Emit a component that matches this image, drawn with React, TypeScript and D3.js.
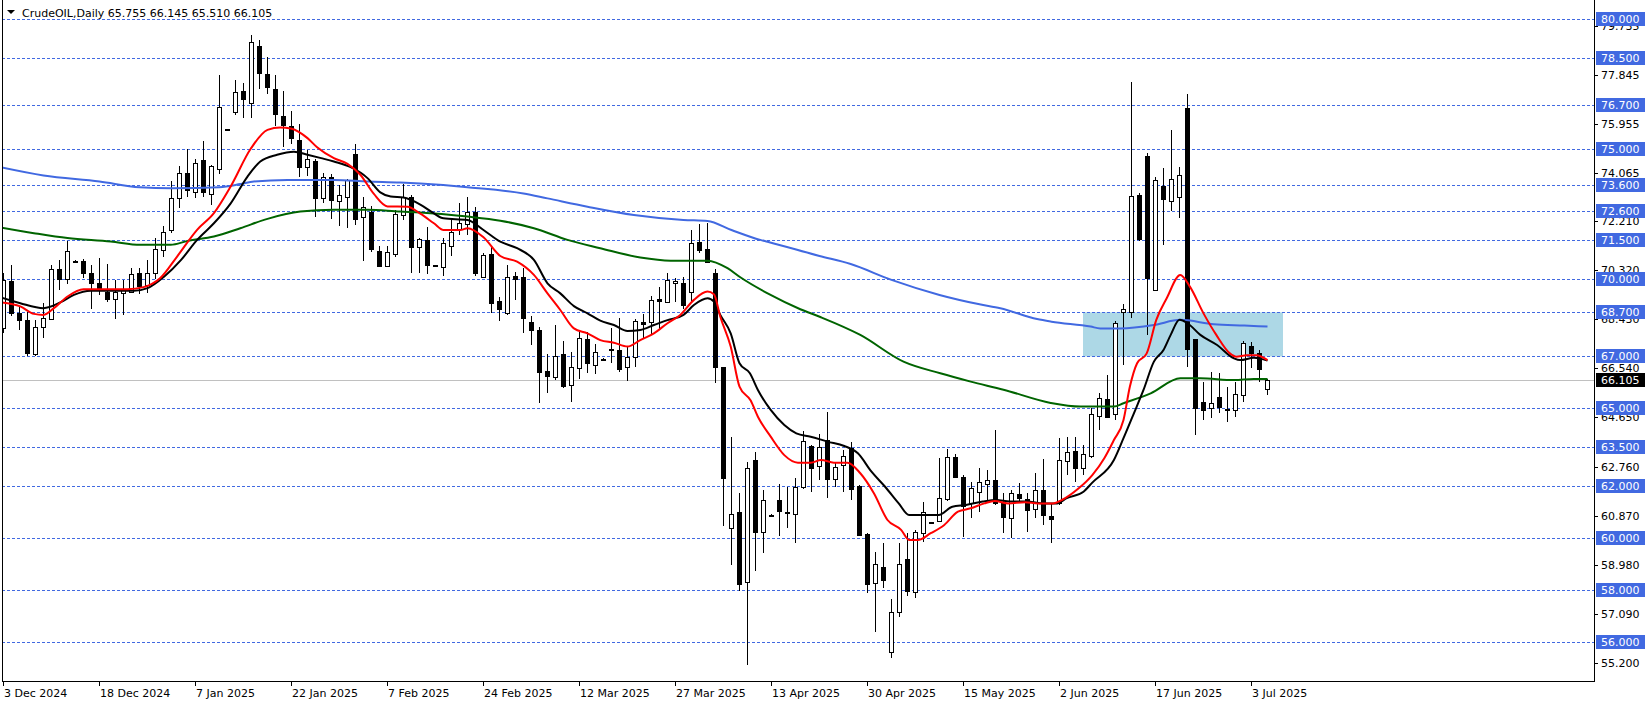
import React from 'react';
import * as d3 from 'd3';

// Daily candles: [open, high, low, close], bar 0 = 3 Dec 2024
const ohlc: number[][] = [
  [68.09, 70.2, 67.9, 69.95], [69.91, 70.53, 68.54, 68.69], [68.69, 68.9, 68.03, 68.39], [68.41, 68.73, 67.0, 67.15],
  [67.1, 68.4, 67.0, 68.15], [68.13, 69.05, 67.7, 68.48], [68.44, 70.53, 68.41, 70.36], [70.36, 70.72, 69.57, 69.98],
  [70.0, 71.43, 69.8, 71.07], [70.66, 70.7, 70.6, 70.67], [70.69, 70.75, 70.02, 70.23], [70.23, 70.53, 68.82, 69.82],
  [69.82, 70.79, 69.37, 69.57], [69.5, 70.56, 69.08, 69.21], [69.21, 69.95, 68.44, 69.5], [69.45, 69.95, 68.6, 69.55],
  [69.48, 70.4, 69.48, 70.17], [70.21, 70.4, 69.4, 69.7], [69.76, 70.72, 69.44, 70.23], [70.21, 71.56, 70.0, 71.13],
  [71.11, 72.03, 70.85, 71.79], [71.88, 73.74, 71.75, 73.1], [73.1, 74.34, 72.71, 74.06], [74.06, 75.0, 73.16, 73.42],
  [73.35, 74.6, 73.1, 74.45], [74.57, 75.3, 73.16, 73.32], [73.26, 74.38, 72.84, 74.32], [74.21, 77.85, 74.02, 76.6],
  [75.73, 75.78, 75.7, 75.75], [76.41, 77.65, 76.31, 77.18], [77.23, 77.53, 76.18, 76.91], [76.76, 79.39, 76.18, 79.13],
  [78.96, 79.2, 77.3, 77.91], [77.89, 78.53, 77.12, 77.37], [77.3, 77.85, 75.86, 76.33], [76.27, 77.21, 75.06, 75.9],
  [75.86, 76.46, 75.19, 75.41], [75.34, 75.96, 73.93, 74.29], [74.29, 74.96, 73.96, 74.6], [74.54, 74.6, 72.39, 73.1],
  [73.12, 74.06, 72.93, 73.93], [73.93, 74.03, 72.3, 73.01], [72.99, 73.61, 72.03, 73.21], [73.14, 73.83, 71.94, 73.78],
  [74.79, 75.18, 72.07, 72.29], [72.37, 73.16, 70.68, 72.74], [72.58, 72.78, 71.04, 71.15], [71.07, 71.24, 70.44, 70.5],
  [70.5, 71.24, 70.47, 71.02], [70.94, 72.65, 70.83, 72.48], [72.45, 73.65, 72.26, 73.16], [73.16, 73.23, 70.23, 71.2],
  [71.2, 71.55, 70.2, 71.51], [71.49, 72.0, 70.18, 70.52], [70.52, 70.54, 70.48, 70.5], [70.44, 71.55, 70.1, 71.36],
  [71.27, 72.26, 70.87, 71.78], [71.91, 72.93, 71.68, 72.13], [72.1, 73.16, 71.68, 72.58], [72.55, 72.75, 70.1, 70.2],
  [70.07, 70.97, 70.01, 70.91], [70.95, 71.23, 68.66, 69.05], [69.14, 69.3, 68.38, 68.82], [68.69, 70.52, 68.6, 70.08],
  [70.1, 70.27, 69.18, 69.97], [70.07, 70.4, 67.89, 68.47], [68.34, 68.56, 67.44, 68.02], [68.02, 68.15, 65.2, 66.39],
  [66.45, 67.1, 65.58, 66.26], [66.22, 68.21, 66.1, 67.03], [67.1, 67.6, 65.77, 65.86], [65.9, 67.18, 65.26, 66.58],
  [66.54, 67.96, 66.12, 67.7], [67.66, 67.96, 66.35, 66.76], [66.68, 67.48, 66.32, 67.16], [66.9, 66.93, 66.87, 66.91],
  [67.25, 68.08, 66.74, 67.3], [67.25, 68.47, 66.42, 66.5], [66.6, 67.38, 66.07, 66.99], [66.99, 68.43, 66.6, 68.37],
  [68.34, 68.64, 67.7, 68.25], [68.34, 69.34, 67.87, 69.18], [69.2, 69.69, 68.06, 69.15], [69.11, 70.2, 69.07, 69.95],
  [69.82, 70.04, 69.11, 69.9], [69.84, 70.08, 68.82, 68.98], [69.5, 71.87, 69.11, 71.36], [71.42, 72.1, 70.97, 71.1],
  [71.14, 72.16, 70.59, 70.65], [70.2, 70.36, 65.97, 66.61], [66.58, 66.61, 60.47, 62.3], [60.38, 63.9, 58.97, 60.92],
  [61.0, 61.73, 57.97, 58.22], [58.3, 62.95, 55.1, 62.69], [63.01, 63.32, 58.75, 60.25], [60.23, 61.86, 59.42, 61.47],
  [60.9, 60.93, 60.87, 60.91], [61.47, 62.08, 60.1, 61.06], [61.02, 61.96, 60.38, 60.96], [60.92, 62.31, 59.83, 61.96],
  [61.96, 64.14, 61.9, 63.73], [63.56, 63.59, 61.77, 62.69], [62.79, 64.0, 62.24, 63.53], [63.78, 64.85, 61.54, 62.27],
  [62.28, 62.9, 61.99, 62.76], [62.82, 63.4, 61.79, 63.18], [63.49, 63.69, 61.47, 61.9], [62.01, 62.05, 60.1, 60.12],
  [60.15, 60.2, 57.9, 58.22], [58.29, 59.46, 56.4, 58.99], [58.9, 59.83, 58.07, 58.39], [55.6, 57.66, 55.37, 57.17],
  [57.14, 59.8, 56.98, 58.99], [59.19, 60.19, 57.79, 57.97], [57.92, 60.32, 57.71, 60.25], [60.19, 61.41, 59.87, 61.02],
  [60.6, 60.63, 60.57, 60.61], [60.68, 63.1, 60.64, 61.54], [61.5, 63.42, 61.45, 63.14], [63.14, 63.23, 62.35, 62.37],
  [62.34, 62.43, 60.06, 61.25], [61.34, 62.18, 60.77, 61.92], [61.79, 62.69, 61.02, 62.15], [62.08, 62.63, 61.47, 62.24],
  [62.24, 64.17, 61.28, 61.34], [61.41, 61.73, 60.21, 60.81], [60.76, 61.86, 59.99, 61.73], [61.69, 62.11, 61.34, 61.54],
  [61.5, 61.75, 60.25, 61.09], [61.11, 62.5, 60.77, 61.86], [61.86, 63.04, 60.51, 60.89], [60.86, 61.34, 59.8, 60.73],
  [61.34, 63.85, 61.28, 63.0], [62.98, 63.91, 62.44, 63.31], [63.36, 63.91, 62.18, 62.72], [62.69, 63.59, 62.44, 63.23],
  [63.18, 65.0, 63.1, 64.77], [64.71, 65.58, 64.17, 65.39], [65.35, 66.29, 64.62, 64.68], [64.77, 68.38, 64.55, 68.28],
  [68.7, 69.02, 66.67, 68.82], [68.7, 77.59, 68.47, 73.18], [73.22, 73.3, 71.45, 71.51], [74.72, 74.82, 67.83, 70.01],
  [69.56, 73.93, 69.52, 73.8], [73.57, 74.27, 71.3, 73.07], [73.0, 75.72, 72.62, 73.82], [73.16, 74.31, 72.32, 73.99],
  [76.56, 77.11, 66.61, 67.27], [67.67, 67.67, 63.97, 65.0], [65.26, 66.03, 64.55, 64.94], [65.0, 66.39, 64.64, 65.19],
  [65.42, 66.35, 64.81, 65.07], [64.98, 65.84, 64.49, 64.96], [64.94, 66.03, 64.68, 65.54], [65.52, 67.6, 65.26, 67.51],
  [67.4, 67.57, 66.54, 67.15], [67.12, 67.25, 66.03, 66.5], [65.755, 66.145, 65.51, 66.105],
];

const dateLabels = ['3 Dec 2024', '18 Dec 2024', '7 Jan 2025', '22 Jan 2025', '7 Feb 2025', '24 Feb 2025',
  '12 Mar 2025', '27 Mar 2025', '13 Apr 2025', '30 Apr 2025', '15 May 2025', '2 Jun 2025', '17 Jun 2025', '3 Jul 2025'];
const dateLabelBars = [0, 12, 24, 36, 48, 60, 72, 84, 96, 108, 120, 132, 144, 156];

const levelLines = [80, 78.5, 76.7, 75, 73.6, 72.6, 71.5, 70, 68.7, 67, 65, 63.5, 62, 60, 58, 56];
const axisTicks = [79.735, 77.845, 75.955, 74.065, 72.21, 70.32, 68.43, 66.54, 64.65, 62.76, 60.87, 58.98, 57.09, 55.2];

const lastPrice = 66.105;
const titleText = 'CrudeOIL,Daily  65.755 66.145 65.510 66.105';

const zoneTop = 68.7;
const zoneBottom = 67.0;
const zoneFromBar = 135;
const zoneToBar = 160;

// moving averages: [bar, value]
const maBlue: number[][] = [[-0.4, 74.29], [5, 73.97], [12, 73.74], [17, 73.52], [21, 73.48], [27, 73.52], [29.6, 73.64],
  [31.3, 73.74], [35.5, 73.8], [41.3, 73.8], [45.5, 73.74], [49.6, 73.7], [52.1, 73.66], [58, 73.52], [65, 73.28],
  [68, 73.09], [73, 72.77], [78.8, 72.45], [85, 72.26], [88, 72.22], [91, 71.87], [94.6, 71.49], [95.5, 71.42],
  [102, 70.87], [105.9, 70.56], [111, 69.95], [117, 69.37], [122, 69.01], [124.6, 68.86], [129.2, 68.44], [131, 68.34],
  [135.9, 68.15], [137.1, 68.08], [139.6, 68.08], [143.8, 68.21], [147.1, 68.41], [151.3, 68.24], [155.1, 68.19], [158, 68.15]];

const maGreen: number[][] = [[-0.4, 71.97], [3.8, 71.75], [8, 71.56], [13.4, 71.43], [17.1, 71.3], [20.9, 71.3], [23, 71.45],
  [26.3, 71.62], [29.6, 71.94], [33, 72.3], [37.1, 72.58], [41.3, 72.65], [45.5, 72.65], [49.6, 72.58], [52.1, 72.55],
  [58, 72.39], [62.1, 72.23], [66.3, 71.94], [70.5, 71.49], [74.6, 71.17], [79.6, 70.81], [83.4, 70.69], [88, 70.69],
  [90.5, 70.4], [92.1, 70.05], [95.7, 69.4], [99.6, 68.82], [102.1, 68.52], [107.1, 67.83], [112.5, 66.8], [117.1, 66.35],
  [120.9, 66.03], [125, 65.72], [130.9, 65.21], [134.6, 65.07], [138.8, 65.07], [140, 65.2], [143.4, 65.58], [147.1, 66.16],
  [149.6, 66.16], [153.8, 66.09], [156.3, 66.13], [158, 66.13]];

const maRed: number[][] = [[-0.4, 69.09], [2.1, 68.93], [3.8, 68.64], [5, 68.6], [6.3, 68.86], [8, 69.31], [10, 69.59],
  [12.1, 69.59], [15.5, 69.59], [17.5, 69.67], [19.6, 70.02], [21.7, 70.85], [24.2, 71.88], [26.3, 72.52], [28.4, 73.55],
  [30.9, 75.0], [33, 75.73], [34.6, 75.82], [35.9, 75.78], [38, 75.41], [39.2, 75.06], [41.3, 74.64], [43, 74.42],
  [44.6, 74.0], [46.3, 73.26], [48, 72.78], [50.5, 72.77], [52.1, 72.5], [53.8, 72.13], [55, 71.87], [57.1, 71.87],
  [58, 71.94], [60, 71.59], [62.1, 70.87], [64.2, 70.65], [66.3, 70.14], [68, 69.43], [69.6, 68.79], [71.3, 68.08],
  [73, 67.89], [74.6, 67.63], [76.3, 67.53], [78, 67.38], [79.6, 67.63], [81.3, 67.89], [83, 68.28], [84.6, 68.6],
  [86.3, 69.18], [88, 69.5], [88.8, 69.4], [89.6, 68.53], [90.9, 67.38], [92, 65.84], [93.4, 65.3], [94.3, 64.68],
  [95.9, 63.91], [97.6, 63.2], [99.3, 62.91], [100.9, 62.91], [102.2, 63.01], [103.8, 62.91], [105.5, 62.91],
  [107.1, 62.5], [108.8, 61.73], [110.5, 60.7], [112.2, 60.32], [113.2, 59.93], [114.3, 59.93], [115.9, 60.19],
  [117.6, 60.51], [119.3, 61.02], [120.9, 61.15], [122.6, 61.34], [123.9, 61.43], [125.6, 61.34], [127.7, 61.38],
  [129.3, 61.34], [131.2, 61.34], [132.3, 61.47], [134.4, 61.92], [136.1, 62.43], [137.6, 63.08], [138.8, 63.78],
  [140, 64.55], [140.8, 65.84], [141.7, 66.74], [142.9, 67.12], [144.1, 68.41], [145.4, 69.24], [147.1, 70.14],
  [148.3, 69.69], [150, 68.66], [151.6, 67.83], [153.3, 67.12], [154.1, 66.99], [155.4, 67.05], [156.6, 67.05], [158, 66.86]];

const maBlack: number[][] = [[-0.4, 69.28], [2.1, 69.05], [5, 68.86], [7.1, 69.08], [8.8, 69.37], [10.9, 69.53],
  [13.4, 69.53], [16.3, 69.53], [18, 69.63], [20.1, 70.08], [22.2, 70.72], [24.2, 71.49], [26.3, 72.13], [28.4, 72.9],
  [30.5, 73.93], [32.1, 74.51], [34.2, 74.77], [36.3, 74.89], [38, 74.77], [39.7, 74.64], [41.3, 74.51], [43.4, 74.29],
  [45.5, 73.87], [47.1, 73.32], [48.4, 73.16], [50, 73.12], [52.1, 72.85], [53.8, 72.51], [55, 72.32], [58, 72.26],
  [60, 71.87], [62.1, 71.42], [64.2, 71.17], [66.3, 70.72], [68, 69.82], [69.6, 69.43], [71.3, 68.94], [73, 68.66],
  [74.6, 68.38], [76.3, 68.21], [78, 67.98], [79.6, 68.02], [81.3, 68.21], [83, 68.4], [85, 68.6], [86.3, 68.98],
  [88, 69.24], [88.8, 69.11], [89.6, 68.6], [90.9, 67.89], [92, 66.74], [93.3, 66.35], [94.3, 65.71], [95.9, 64.94],
  [97.6, 64.36], [99.1, 64.04], [100.9, 63.91], [103, 63.72], [105.1, 63.55], [106.8, 63.27], [108.5, 62.56],
  [110.2, 61.98], [111.9, 61.34], [113.2, 60.89], [115.3, 60.89], [116.9, 60.89], [118.6, 61.21], [120.3, 61.28],
  [122.4, 61.41], [124.1, 61.47], [125.8, 61.41], [127.9, 61.41], [130, 61.34], [131.7, 61.34], [132.9, 61.54],
  [135, 61.79], [136.1, 62.14], [138.8, 63.01], [140, 63.85], [141.3, 64.81], [142.5, 65.71], [143.8, 66.8],
  [145, 67.25], [145.9, 67.83], [147, 68.41], [148, 68.28], [149.6, 67.83], [151.7, 67.44], [153.8, 66.93],
  [154.6, 66.86], [156.3, 66.95], [158, 66.84]];

const W = 1651;
const H = 705;
const PLOT_L = 2;
const PLOT_R = 1594;
const PLOT_B = 681;
const FONT = '"DejaVu Sans", Tahoma, sans-serif';
const ROYAL = '#4169E1';

export default function App() {
  const x = d3.scaleLinear().domain([0, 1]).range([3, 11]);
  const y = d3.scaleLinear().domain([80, 56]).range([19, 642]);

  const line = d3.line<number[]>()
    .x((d) => x(d[0]) + 0.5)
    .y((d) => y(d[1]))
    .curve(d3.curveMonotoneX);

  const mas: [number[][], string][] = [
    [maBlue, ROYAL],
    [maGreen, '#006400'],
    [maBlack, '#000000'],
    [maRed, '#FF0000'],
  ];

  return (
    <svg width={W} height={H} style={{ position: 'absolute', left: 0, top: 0, display: 'block', background: '#fff' }}
      fontFamily={FONT} fontSize={11}>
      <defs>
        <clipPath id="plot">
          <rect x={PLOT_L + 0.5} y={0} width={PLOT_R - PLOT_L - 0.5} height={PLOT_B} />
        </clipPath>
      </defs>
      <rect x={0} y={0} width={W} height={H} fill="#fff" />
      <g clipPath="url(#plot)">
        {/* zone */}
        <rect x={x(zoneFromBar)} y={y(zoneTop)} width={x(zoneToBar) - x(zoneFromBar)}
          height={y(zoneBottom) - y(zoneTop)} fill="#ADD8E6" />
        {/* level lines */}
        {levelLines.map((lv) => (
          <line key={lv} x1={PLOT_L} x2={PLOT_R} y1={Math.round(y(lv)) + 0.5} y2={Math.round(y(lv)) + 0.5}
            stroke={ROYAL} strokeWidth={1} strokeDasharray="3,2" />
        ))}
        {/* last price line */}
        <line x1={PLOT_L} x2={PLOT_R} y1={Math.round(y(lastPrice)) + 0.5} y2={Math.round(y(lastPrice)) + 0.5}
          stroke="#C0C0C0" strokeWidth={1} />
        {/* candles */}
        <g shapeRendering="crispEdges">
          {ohlc.map((c, i) => {
            const [o, h, l, cl] = c;
            const cx = x(i);
            const top = Math.round(y(Math.max(o, cl)));
            const bot = Math.round(y(Math.min(o, cl)));
            const bull = cl >= o;
            return (
              <g key={i}>
                <line x1={cx + 0.5} x2={cx + 0.5} y1={Math.round(y(h))} y2={Math.round(y(l))} stroke="#000" strokeWidth={1} />
                <rect x={cx - 1.5} y={top + 0.5} width={4} height={Math.max(bot - top, 0.5)}
                  fill={bull ? '#fff' : '#000'} stroke="#000" strokeWidth={1} />
              </g>
            );
          })}
        </g>
        {/* moving averages */}
        {mas.map(([data, color], k) => (
          <path key={k} d={line(data) || ''} fill="none" stroke={color} strokeWidth={2} strokeLinejoin="round" />
        ))}
      </g>

      {/* frame */}
      <g shapeRendering="crispEdges">
        <line x1={PLOT_L + 0.5} x2={PLOT_L + 0.5} y1={0} y2={PLOT_B + 0.5} stroke="#000" />
        <line x1={PLOT_R + 0.5} x2={PLOT_R + 0.5} y1={0} y2={PLOT_B + 0.5} stroke="#000" />
        <line x1={PLOT_L} x2={PLOT_R + 1} y1={PLOT_B + 0.5} y2={PLOT_B + 0.5} stroke="#000" />
      </g>

      {/* title */}
      <polygon points="7,10 15,10 11,14" fill="#000" />
      <text x={22} y={17} fill="#000">{titleText}</text>

      {/* x axis */}
      {dateLabelBars.map((b, k) => (
        <g key={b}>
          <line x1={x(b) + 0.5} x2={x(b) + 0.5} y1={PLOT_B} y2={PLOT_B + 5} stroke="#000" shapeRendering="crispEdges" />
          <text x={x(b) + 1} y={697} fill="#000">{dateLabels[k]}</text>
        </g>
      ))}

      {/* y axis ticks */}
      {axisTicks.map((t) => (
        <g key={t}>
          <line x1={PLOT_R} x2={PLOT_R + 4} y1={Math.round(y(t)) + 0.5} y2={Math.round(y(t)) + 0.5} stroke="#000" shapeRendering="crispEdges" />
          <text x={1601} y={y(t) + 4} fill="#000">{t.toFixed(3)}</text>
        </g>
      ))}

      {/* level labels */}
      {levelLines.map((lv) => (
        <g key={lv}>
          <rect x={1596} y={Math.round(y(lv)) - 7} width={49} height={14} fill={ROYAL} />
          <text x={1601} y={y(lv) + 4} fill="#fff">{lv.toFixed(3)}</text>
        </g>
      ))}

      {/* last price label */}
      <rect x={1596} y={Math.round(y(lastPrice)) - 7} width={49} height={14} fill="#000" />
      <text x={1601} y={y(lastPrice) + 4} fill="#fff">{lastPrice.toFixed(3)}</text>
    </svg>
  );
}
